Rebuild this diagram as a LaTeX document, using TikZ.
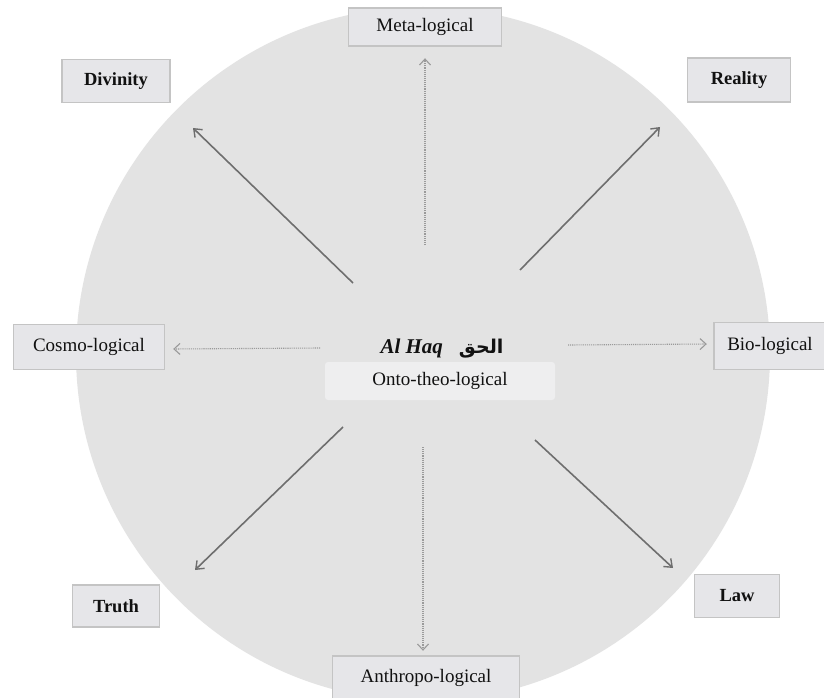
\documentclass[tikz,border=0pt]{standalone}
\usepackage{fontspec}
\setmainfont{Liberation Serif}
\newfontfamily\arabicfont[Script=Arabic]{DejaVu Sans}
\TeXXeTstate=1
\usetikzlibrary{arrows.meta}
\definecolor{boxfill}{HTML}{E6E6E9}
\definecolor{boxline}{HTML}{C4C4C4}
\definecolor{discfill}{HTML}{E3E3E3}
\definecolor{centerfill}{HTML}{EEEEEF}
\definecolor{solidarrow}{HTML}{6E6E6E}
\definecolor{dotarrow}{HTML}{9A9A9A}
\definecolor{txt}{HTML}{111111}
\tikzset{
  labelbox/.style={draw=boxline, line width=1.6pt, fill=boxfill, text=txt,
    font=\fontsize{19}{22}\selectfont, minimum height=40pt, inner xsep=8pt},
  boldbox/.style={labelbox, font=\fontsize{18.5}{22}\selectfont\bfseries},
  solidlink/.style={draw=solidarrow, line width=1.6pt,
    -{Straight Barb[length=7pt,width=11pt,line width=1.4pt]}},
  dotlink/.style={draw=dotarrow, line width=1.1pt, densely dotted,
    -{Straight Barb[length=6pt,width=11pt,line width=1.1pt,sep]}},
}
\begin{document}
\begin{tikzpicture}[x=1pt,y=-1pt]
\useasboundingbox (0,0) rectangle (824,698);
\fill[white] (0,0) rectangle (824,698);
% disc
\fill[discfill] (423,354) circle[radius=347];
% centre
\node[fill=centerfill, rounded corners=3pt, minimum width=230pt, minimum height=38pt,
  text=txt, font=\fontsize{19}{22}\selectfont] (onto) at (440,381) {Onto-theo-logical};
\node[text=txt, inner sep=0pt] (alhaq) at (442,349)
  {\fontsize{21}{24}\selectfont\bfseries\itshape Al Haq\hspace{16pt}{\arabicfont\upshape\fontsize{19}{22}\selectfont\beginR الحق\endR}};
% outer boxes
\node[labelbox, minimum width=153pt, minimum height=38pt] (meta) at (425,27) {Meta-logical};
\node[boldbox, minimum width=108pt, minimum height=43pt] (divinity) at (116,81) {Divinity};
\node[boldbox, minimum width=103pt, minimum height=44pt] (reality) at (739,80) {Reality};
\node[labelbox, minimum width=151pt, minimum height=45pt] (cosmo) at (89,347) {Cosmo-logical};
\node[labelbox, minimum width=112pt, minimum height=47pt] (bio) at (770,346) {Bio-logical};
\node[boldbox, minimum width=87pt, minimum height=42pt] (truth) at (116,606) {Truth};
\node[boldbox, minimum width=85pt, minimum height=43pt] (law) at (737,596) {Law};
\node[labelbox, minimum width=187pt, minimum height=44pt] (anthropo) at (426,678) {Anthropo-logical};
% connector ends
\coordinate (sDiv) at (353,283); \coordinate (eDiv) at (193,128);
\coordinate (sMeta) at (425,245); \coordinate (eMeta) at (425,57);
\coordinate (sReal) at (520,270); \coordinate (eReal) at (660,127);
\coordinate (sCos) at (320,348); \coordinate (eCos) at (172,349);
\coordinate (sBio) at (568,345); \coordinate (eBio) at (708,344);
\coordinate (sTru) at (343,427); \coordinate (eTru) at (195,570);
\coordinate (sAnt) at (423,447); \coordinate (eAnt) at (423,652);
\coordinate (sLaw) at (535,440); \coordinate (eLaw) at (673,568);
% connectors
\draw[solidlink] (sDiv) -- (eDiv);
\draw[dotlink] (sMeta) -- (eMeta);
\draw[solidlink] (sReal) -- (eReal);
\draw[dotlink] (sCos) -- (eCos);
\draw[dotlink] (sBio) -- (eBio);
\draw[solidlink] (sTru) -- (eTru);
\draw[dotlink] (sAnt) -- (eAnt);
\draw[solidlink] (sLaw) -- (eLaw);
\end{tikzpicture}
\end{document}
